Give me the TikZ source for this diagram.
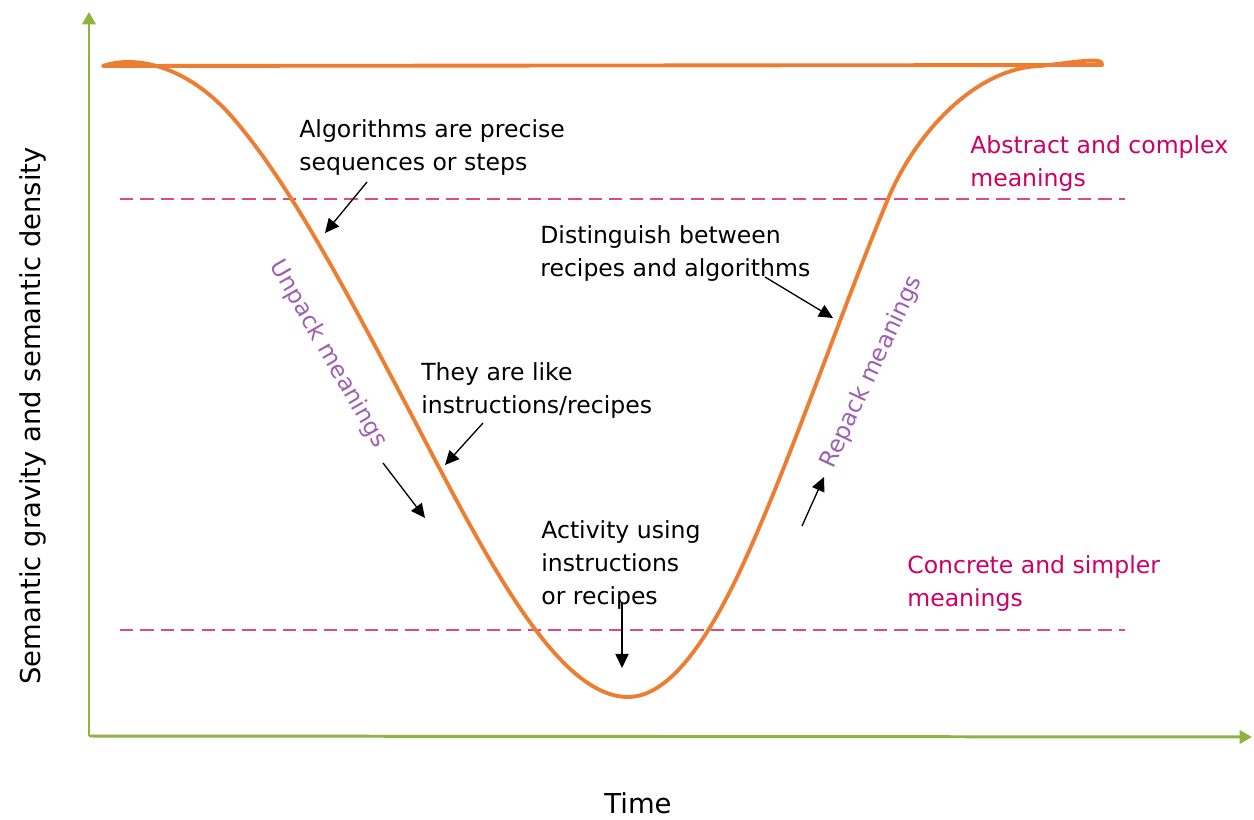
\documentclass[tikz,border=0pt]{standalone}
\usepackage{fontspec}
\setmainfont{DejaVu Sans}
\usetikzlibrary{arrows.meta}
\definecolor{curveorange}{HTML}{ED7D31}
\definecolor{axisgreen}{HTML}{8CB43F}
\definecolor{dashpink}{HTML}{DD4A7E}
\definecolor{levelmagenta}{HTML}{CC0066}
\definecolor{movepurple}{HTML}{9E5FB3}
\newcommand\lblfont{\fontsize{13.4pt}{18.8pt}\selectfont}
\newcommand\axfont{\fontsize{15.6pt}{19pt}\selectfont}
\begin{document}
\begin{tikzpicture}[x=0.02cm,y=-0.02cm,
  axisline/.style={draw=axisgreen,line width=1.7pt,-{Triangle[length=7pt,width=7.5pt]}},
  levelline/.style={draw=dashpink,line width=1.1pt,dash pattern=on 7.6pt off 4pt},
  wave/.style={draw=curveorange,line width=2.2pt,line join=round},
  note/.style={anchor=north west,inner sep=0pt,align=left,font=\lblfont,text=black},
  levelnote/.style={note,text=levelmagenta},
  movenote/.style={inner sep=0pt,font=\lblfont,text=movepurple},
  pointer/.style={draw=black,line width=0.75pt,-{Triangle[length=8pt,width=7.5pt]}}]
\useasboundingbox (0,0) rectangle (1254,820);
% axes
\coordinate (origin) at (89,736);
\coordinate (ytop) at (89,12);
\coordinate (xend) at (1252,737);
\draw[axisline] (origin) -- (ytop);
\draw[axisline] (origin) -- (xend);
% level lines
\coordinate (hiL) at (120,199);
\coordinate (hiR) at (1125,199);
\coordinate (loL) at (120,630);
\coordinate (loR) at (1125,630);
\draw[levelline] (hiL) -- (hiR);
\draw[levelline] (loL) -- (loR);
% wave
\draw[wave] (103,66)
  .. controls (138,54) and (190,68) .. (233,118)
  .. controls (289,183) and (344,287) .. (400,393)
  .. controls (476,537) and (552,697) .. (628,697)
  .. controls (667,697) and (706,646) .. (745,560)
  .. controls (793,454) and (840,314) .. (888,199)
  .. controls (915,134) and (975,68) .. (1040,66)
  .. controls (1070,63) and (1105,56) .. (1102,65)
  -- cycle;
% texts
\node[note] (alg) at (299,119) {Algorithms are precise\\sequences or steps};
\node[note] (dist) at (540,225) {Distinguish between\\recipes and algorithms};
\node[note] (they) at (421,362) {They are like\\instructions/recipes};
\node[note] (act) at (541,520) {Activity using\\instructions\\or recipes};
\node[levelnote] (abs) at (970,135) {Abstract and complex\\meanings};
\node[levelnote] (conc) at (907,555) {Concrete and simpler\\meanings};
\node[movenote,rotate=-60] (unpack) at (328,354) {Unpack meanings};
\node[movenote,rotate=65] (repack) at (872,372) {Repack meanings};
\node[inner sep=0pt,font=\axfont,rotate=90] (ylab) at (33,416) {Semantic gravity and semantic density};
\node[inner sep=0pt,font=\axfont] (xlab) at (638,803) {Time};
% pointers
\coordinate (algS) at (367,182); \coordinate (algT) at (325,233);
\coordinate (theyS) at (483,423); \coordinate (theyT) at (445,465);
\coordinate (unS) at (383,463); \coordinate (unT) at (425,518);
\coordinate (distS) at (765,277); \coordinate (distT) at (833,318);
\coordinate (actS) at (622,602); \coordinate (actT) at (622,668);
\coordinate (reS) at (802,526); \coordinate (reT) at (824,477);
\draw[pointer] (algS) -- (algT);
\draw[pointer] (theyS) -- (theyT);
\draw[pointer] (unS) -- (unT);
\draw[pointer] (distS) -- (distT);
\draw[pointer] (actS) -- (actT);
\draw[pointer] (reS) -- (reT);
\end{tikzpicture}
\end{document}
